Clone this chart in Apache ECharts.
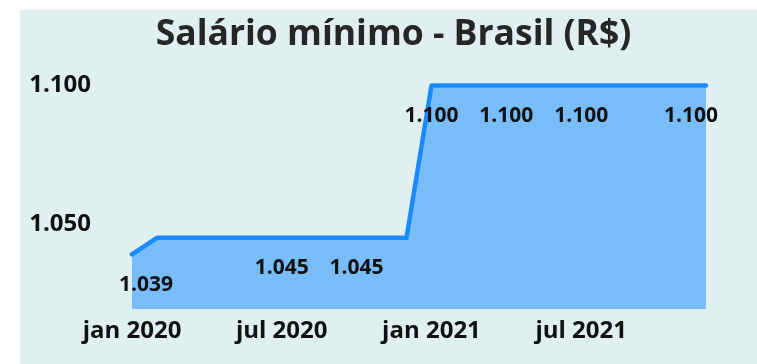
<!DOCTYPE html>
<html>
<head>
<meta charset="utf-8">
<script src="https://cdn.jsdelivr.net/npm/echarts@6/dist/echarts.min.js"></script>
<style>
  html, body { margin: 0; padding: 0; background: #ffffff; }
  #chart { width: 757px; height: 364px; }
</style>
</head>
<body>
<div id="chart"></div>
<script>
// Monthly minimum wage in Brazil, in reais
const months = [
  'jan 2020', 'fev 2020', 'mar 2020', 'abr 2020', 'mai 2020', 'jun 2020',
  'jul 2020', 'ago 2020', 'set 2020', 'out 2020', 'nov 2020', 'dez 2020',
  'jan 2021', 'fev 2021', 'mar 2021', 'abr 2021', 'mai 2021', 'jun 2021',
  'jul 2021', 'ago 2021', 'set 2021', 'out 2021', 'nov 2021', 'dez 2021'
];
const wage = [
  1039, 1045, 1045, 1045, 1045, 1045,
  1045, 1045, 1045, 1045, 1045, 1045,
  1100, 1100, 1100, 1100, 1100, 1100,
  1100, 1100, 1100, 1100, 1100, 1100
];
// months that carry a value label
const labeledMonths = ['jan 2020', 'jul 2020', 'out 2020', 'jan 2021', 'abr 2021', 'jul 2021', 'dez 2021'];
const yTicks = [1050, 1100];

const fmt = v => String(Math.round(v)).replace(/\B(?=(\d{3})+(?!\d))/g, '.');
const FONT = '"Open Sans", "Noto Sans", sans-serif';

const seriesData = wage.map((v, i) => {
  const show = labeledMonths.includes(months[i]);
  let offset = [0, 0];
  if (show && i === 0) offset = [14, 0];
  if (show && i === wage.length - 1) offset = [-15, 0];
  return { value: v, label: { show: show, offset: offset } };
});

const chart = echarts.init(document.getElementById('chart'), null, { renderer: 'canvas' });
chart.setOption({
  animation: false,
  backgroundColor: '#ffffff',
  graphic: [{
    type: 'rect',
    z: -10,
    silent: true,
    shape: { x: 20, y: 10, width: 737, height: 354 },
    style: { fill: '#e0efef' }
  }],
  title: {
    text: 'Salário mínimo - Brasil (R$)',
    left: 388.5,
    textAlign: 'center',
    top: 12,
    textStyle: { fontFamily: FONT, fontWeight: 'bold', fontSize: 35.5, color: '#262626' }
  },
  grid: { left: 132, right: 51, top: 85.5, bottom: 55 },
  xAxis: {
    type: 'category',
    data: months,
    boundaryGap: false,
    axisLine: { show: false },
    axisTick: { show: false },
    splitLine: { show: false },
    axisLabel: {
      interval: 5,
      margin: 10,
      fontFamily: FONT, fontWeight: 'bold', fontSize: 24, color: '#111111'
    }
  },
  yAxis: {
    type: 'value',
    min: 1019.3,
    max: 1100,
    axisLine: { show: false },
    axisTick: { show: false },
    splitLine: { show: false },
    axisLabel: {
      customValues: yTicks,
      formatter: fmt,
      margin: 41,
      fontFamily: FONT, fontWeight: 'bold', fontSize: 24, color: '#111111'
    }
  },
  series: [{
    type: 'line',
    data: seriesData,
    clip: false,
    symbol: 'circle',
    symbolSize: 2,
    showSymbol: true,
    itemStyle: { color: 'rgba(0,0,0,0)', borderWidth: 0 },
    lineStyle: { color: '#188cff', width: 4.5, cap: 'round', join: 'round' },
    areaStyle: { color: '#78bcf8', opacity: 1 },
    label: {
      position: 'bottom',
      distance: 19,
      formatter: p => fmt(p.value),
      fontFamily: FONT, fontWeight: 'bold', fontSize: 21, color: '#111111'
    }
  }]
});
</script>
</body>
</html>
